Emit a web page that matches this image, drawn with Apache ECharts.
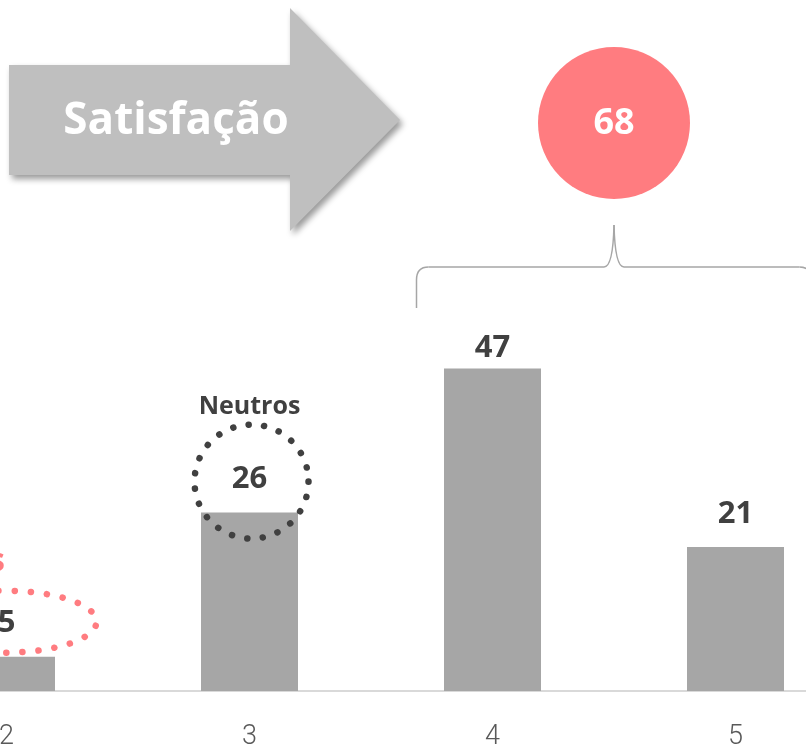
<!DOCTYPE html>
<html>
<head>
<meta charset="utf-8">
<script src="https://cdn.jsdelivr.net/npm/echarts@6/dist/echarts.min.js"></script>
<style>
  html, body { margin: 0; padding: 0; background: #fff; }
  #main { width: 806px; height: 751px; }
</style>
</head>
<body>
<div id="main"></div>
<script>
// categorias visíveis e valores das barras
var categories = ['2', '3', '4', '5'];
var values = [5, 26, 47, 21];
// distância do rótulo ao topo da barra
var labelGap = [18, 18, 5, 17];

var chartDom = document.getElementById('main');
var myChart = echarts.init(chartDom);
var option;

option = {
  animation: false,
  grid: { left: -115, right: -51, top: 142, bottom: 60, outerBoundsMode: 'none', containLabel: false },
  xAxis: {
    type: 'category',
    data: categories,
    axisLine: { lineStyle: { color: '#d9d9d9', width: 2 } },
    axisTick: { show: false },
    axisLabel: {
      margin: 33,
      color: '#595959',
      fontFamily: 'Roboto',
      fontWeight: 300,
      fontSize: 27
    }
  },
  yAxis: {
    type: 'value',
    min: 0,
    max: 80,
    show: false,
    splitLine: { show: false }
  },
  series: [
    {
      type: 'bar',
      barWidth: 97,
      itemStyle: { color: '#a6a6a6' },
      data: values.map(function (v, i) {
        return {
          value: v,
          label: { distance: labelGap[i] }
        };
      }),
      label: {
        show: true,
        position: 'top',
        color: '#404040',
        fontFamily: 'Open Sans',
        fontWeight: 'bold',
        fontSize: 31
      }
    }
  ]
};

myChart.setOption(option);

// posições calculadas a partir dos eixos
function px(i, v) {
  return myChart.convertToPixel({ seriesIndex: 0 }, [i, v]);
}
var p2 = px(0, values[0]);
var p3 = px(1, values[1]);
var p4 = px(2, values[2]);
var p5 = px(3, values[3]);
var mid = (p4[0] + p5[0]) / 2;
var half = (p5[0] - p4[0]) / 2 + 76;
var L = mid - half, R = mid + half;
var total = values[2] + values[3];

var braceStyle = { fill: null, stroke: '#a6a6a6', lineWidth: 1.5 };
function seg(x1, y1, x2, y2) {
  return { type: 'line', z: 10, shape: { x1: x1, y1: y1, x2: x2, y2: y2 }, style: braceStyle };
}
function curve(x1, y1, cx, cy, x2, y2) {
  return { type: 'bezierCurve', z: 10, shape: { x1: x1, y1: y1, cpx1: cx, cpy1: cy, x2: x2, y2: y2 }, style: braceStyle };
}

myChart.setOption({
  graphic: [
    // seta
    {
      type: 'polygon',
      shape: { points: [[9, 65], [290, 65], [290, 8], [400, 120], [290, 231], [290, 175], [9, 175]] },
      style: {
        fill: '#bfbfbf',
        shadowBlur: 6,
        shadowOffsetX: 3,
        shadowOffsetY: 4,
        shadowColor: 'rgba(0,0,0,0.4)'
      }
    },
    {
      type: 'text',
      x: 176,
      y: 121,
      z: 10,
      style: {
        text: 'Satisfação',
        fill: '#ffffff',
        font: 'bold 44px "Open Sans"',
        textAlign: 'center',
        textVerticalAlign: 'middle',
        shadowBlur: 3,
        shadowOffsetX: 2,
        shadowOffsetY: 2,
        shadowColor: 'rgba(0,0,0,0.45)'
      }
    },
    // círculo com o total
    {
      type: 'circle',
      shape: { cx: mid, cy: 123, r: 76 },
      style: { fill: '#ff7c80' }
    },
    {
      type: 'text',
      x: mid,
      y: 124,
      z: 10,
      style: {
        text: String(total),
        fill: '#ffffff',
        font: 'bold 36px "Open Sans"',
        textAlign: 'center',
        textVerticalAlign: 'middle'
      }
    },
    // chave
    seg(L, 308, L, 280),
    curve(L, 280, L, 267, L + 12, 267),
    seg(L + 12, 267, mid - 10, 267),
    curve(mid - 10, 267, mid - 1, 267, mid, 225),
    curve(mid, 225, mid + 1, 267, mid + 10, 267),
    seg(mid + 10, 267, R - 12, 267),
    curve(R - 12, 267, R, 267, R, 280),
    seg(R, 280, R, 308),
    // neutros
    {
      type: 'circle',
      z: 10,
      shape: { cx: p3[0] + 2, cy: p3[1] - 31, r: 57 },
      style: { fill: null, stroke: '#404040', lineWidth: 6.5, lineDash: [0.1, 15.5], lineCap: 'round' }
    },
    {
      type: 'text',
      z: 10,
      x: p3[0],
      y: p3[1] - 106,
      style: {
        text: 'Neutros',
        fill: '#404040',
        font: 'bold 25px "Open Sans"',
        textAlign: 'center',
        textVerticalAlign: 'middle'
      }
    },
    // insatisfeitos
    {
      type: 'ellipse',
      z: 10,
      shape: { cx: p2[0] - 2, cy: p2[1] - 35, rx: 92, ry: 31 },
      style: { fill: null, stroke: '#ff7c80', lineWidth: 6.5, lineDash: [0.1, 16], lineCap: 'round' }
    },
    {
      type: 'text',
      z: 10,
      x: 5,
      y: p2[1] - 95,
      style: {
        text: 'Insatisfeitos',
        fill: '#ff7c80',
        font: 'bold 32px "Open Sans"',
        textAlign: 'right',
        textVerticalAlign: 'middle'
      }
    }
  ]
});
</script>
</body>
</html>
